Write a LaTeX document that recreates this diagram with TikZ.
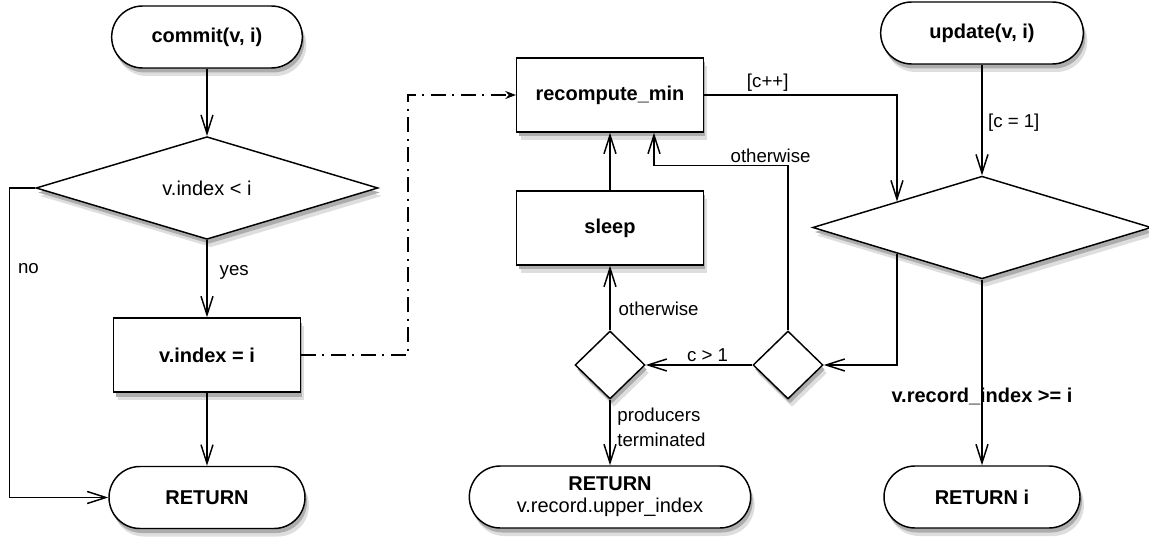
\documentclass[tikz,border=0pt]{standalone}
\usepackage{fontspec}
\setmainfont{Liberation Sans}
\usepackage{tikz}
\usetikzlibrary{shapes.geometric}
\usetikzlibrary{shapes.misc}
\usetikzlibrary{arrows.meta}
\usetikzlibrary{calc}

\begin{document}
\begin{tikzpicture}[x=0.75pt,y=0.75pt,yscale=-1,xscale=1,
  term/.style={rounded rectangle,draw,line width=1.1pt,fill=white,inner sep=0pt,minimum height=46.5pt,font=\fontsize{15}{16.5}\selectfont\bfseries},
  proc/.style={rectangle,draw,line width=1.1pt,fill=white,inner sep=0pt,minimum width=140pt,minimum height=55.5pt,font=\fontsize{15}{18}\selectfont\bfseries},
  dec/.style={diamond,draw,line width=1.1pt,fill=white,inner sep=0pt,aspect=3,font=\fontsize{15}{18}\selectfont},
  shd/.style={draw=none,fill=black!#1},
  flow/.style={line width=1.1pt,-{Straight Barb[length=14pt,width=9pt]}},
  dashdot/.style={line width=1.1pt,dash pattern=on 11pt off 5pt on 1.5pt off 5pt,-{Stealth[length=8pt,width=6pt]}},
  lbl/.style={font=\fontsize{14}{16}\selectfont,inner sep=2pt}
]
%uncomment if require: \path (0,538); %set diagram left start at 0, and has height of 538
\useasboundingbox (0,0) rectangle (1149,538);

%Shadows
\node [term,shd=13,minimum width=143pt] (sh-commit-a) at (211,45) {};
\node [term,shd=32,minimum width=143pt] (sh-commit-b) at (209,41.5) {};
\node [dec,shd=13,minimum width=256.5pt,minimum height=77pt] (sh-chk-a) at (211,196) {};
\node [dec,shd=32,minimum width=256.5pt,minimum height=77pt] (sh-chk-b) at (209,192.5) {};
\node [proc,shd=13] (sh-assign-a) at (211,363) {};
\node [proc,shd=32] (sh-assign-b) at (209,359.5) {};
\node [term,shd=13,minimum width=147pt] (sh-ret-a) at (211,505.5) {};
\node [term,shd=32,minimum width=147pt] (sh-ret-b) at (209,502) {};
\node [proc,shd=13] (sh-recmin-a) at (614,103) {};
\node [proc,shd=32] (sh-recmin-b) at (612,99.5) {};
\node [proc,shd=13] (sh-sleep-a) at (614,236) {};
\node [proc,shd=32] (sh-sleep-b) at (612,232.5) {};
\node [dec,shd=13,minimum width=52.5pt,minimum height=51pt] (sh-prod-a) at (614,373) {};
\node [dec,shd=32,minimum width=52.5pt,minimum height=51pt] (sh-prod-b) at (612,369.5) {};
\node [dec,shd=13,minimum width=52.5pt,minimum height=51pt] (sh-cnt-a) at (792,373) {};
\node [dec,shd=32,minimum width=52.5pt,minimum height=51pt] (sh-cnt-b) at (790,369.5) {};
\node [term,shd=13,minimum width=211pt] (sh-retup-a) at (614,505) {};
\node [term,shd=32,minimum width=211pt] (sh-retup-b) at (612,501.5) {};
\node [term,shd=13,minimum width=152pt] (sh-upd-a) at (986,41) {};
\node [term,shd=32,minimum width=152pt] (sh-upd-b) at (984,37.5) {};
\node [dec,shd=13,minimum width=254pt,minimum height=77pt] (sh-rec-a) at (986,235.5) {};
\node [dec,shd=32,minimum width=254pt,minimum height=77pt] (sh-rec-b) at (984,232) {};
\node [term,shd=13,minimum width=147pt] (sh-reti-a) at (986,505) {};
\node [term,shd=32,minimum width=147pt] (sh-reti-b) at (984,501.5) {};

%Flowchart: Terminator
\node [term,minimum width=143pt] (commit) at (207,37) {commit(v, i)};
%Flowchart: Decision
\node [dec,minimum width=256.5pt,minimum height=77pt] (chk) at (207,188) {v.index < i};
%Flowchart: Process
\node [proc] (assign) at (207,355) {v.index = i};
%Flowchart: Terminator
\node [term,minimum width=147pt] (ret) at (207,497.5) {RETURN};

%Flowchart: Process
\node [proc] (recmin) at (610,95) {recompute\_min};
%Flowchart: Process
\node [proc] (sleep) at (610,228) {sleep};
%Flowchart: Decision
\node [dec,minimum width=52.5pt,minimum height=51pt] (prod) at (610,365) {};
%Flowchart: Decision
\node [dec,minimum width=52.5pt,minimum height=51pt] (cnt) at (788,365) {};
%Flowchart: Terminator
\node [term,minimum width=211pt,align=center,font=\fontsize{15}{16.5}\selectfont] (retup) at (610,497) {\textbf{RETURN}\\v.record.upper\_index};

%Flowchart: Terminator
\node [term,minimum width=152pt] (upd) at (982,33) {update(v, i)};
%Flowchart: Decision
\node [dec,minimum width=254pt,minimum height=77pt] (rec) at (982,227.5) {};
%Flowchart: Terminator
\node [term,minimum width=147pt] (reti) at (982,497) {RETURN i};

%Straight Lines
\draw [flow] (commit.south) -- (chk.north);
\draw [flow] (chk.south) -- (assign.north) node [lbl,right=7pt,pos=0.42] (yes) {yes};
\draw [flow] (chk.west) -- ++(-26,0) |- (ret.west) node [lbl,pos=0.13,right=4pt] (no) {no};
\draw [flow] (assign.south) -- (ret.north);
\draw [dashdot] (assign.east) -- ++(107,0) |- (recmin.west);

\draw [flow] (sleep.north) -- (recmin.south);
\draw [flow] (prod.north) -- (sleep.south) node [lbl,right=4pt,pos=0.33] (oth1) {otherwise};
\draw [flow] (prod.south) -- (retup.north) node [lbl,right=3pt,pos=0.42,align=left,font=\fontsize{14}{18.5}\selectfont] (term) {producers\\terminated};
\draw [flow] (cnt.west) -- (prod.east) node [lbl,above,pos=0.42] (cgt) {c > 1};
\draw [flow] (cnt.north) |- ($(recmin.south)+(44,33)$) node [lbl,above,pos=0.565] (oth2) {otherwise} -- ($(recmin.south)+(44,0)$);

\draw [flow] (recmin.east) -| ($(rec.north)!0.5!(rec.west)$) node [lbl,above,pos=0.165] (cpp) {[c++]};
\draw [flow] ($(rec.west)!0.5!(rec.south)$) |- (cnt.east);
\draw [flow] (upd.south) -- (rec.north) node [lbl,right=2pt,pos=0.52] (ceq) {[c = 1]};
\draw [flow] (rec.south) -- (reti.north) node [pos=0.63,font=\fontsize{15}{18}\selectfont\bfseries] (ge) {v.record\_index >= i};

\end{tikzpicture}
\end{document}
